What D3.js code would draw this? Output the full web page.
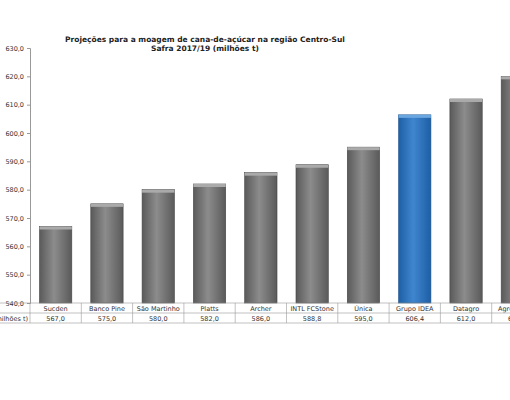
<!DOCTYPE html><html><head><script src="https://cdn.jsdelivr.net/npm/d3@7"></script>
<style>body{margin:0;overflow:hidden;background:#fff}text{font-family:"DejaVu Sans",sans-serif}</style></head><body><svg id="c" width="560" height="400"></svg><script>
const categories=["Sucden","Banco Pine","São Martinho","Platts","Archer","INTL FCStone","Única","Grupo IDEA","Datagro","Agroconsult"];
const values=[567.0,575.0,580.0,582.0,586.0,588.8,595.0,606.4,612.0,620.0];
const yTicks=[540,550,560,570,580,590,600,610,620,630];
(function(){
const svg=d3.select("#c");
const x0=30,plotTop=48,bot=303;
const x=d3.scaleBand().domain(categories).range([x0,x0+51.3*categories.length]).paddingInner(0.37).paddingOuter(0.185);
const y=d3.scaleLinear().domain([540,630]).range([bot,plotTop]);
const defs=svg.append("defs");
function grad(id,c1,c2){const g=defs.append("linearGradient").attr("id",id);
 g.append("stop").attr("offset","0%").attr("stop-color",c2);
 g.append("stop").attr("offset","45%").attr("stop-color",c1);
 g.append("stop").attr("offset","100%").attr("stop-color",c2);}
grad("gg","#8c8c8c","#5a5a5a");grad("gb","#3f86cf","#1e5fa5");
const fmt=v=>d3.format(".1f")(v).replace(".",",");
svg.append("g").attr("transform",`translate(${x0},0)`).call(d3.axisLeft(y).tickValues(yTicks).tickSize(3).tickFormat(fmt))
 .call(g=>{g.select(".domain").attr("stroke","#999");g.selectAll("line").attr("stroke","#999");g.selectAll("text").attr("font-size",6.5).attr("fill","#333");});
svg.selectAll(".bar").data(categories).join("g").each(function(c,i){
 const g=d3.select(this),bx=x(c),bw=x.bandwidth(),yy=y(values[i]);
 g.append("rect").attr("x",bx).attr("y",yy).attr("width",bw).attr("height",bot-yy).attr("fill",c==="Grupo IDEA"?"url(#gb)":"url(#gg)").attr("stroke",c==="Grupo IDEA"?"#1a4f8a":"#444").attr("stroke-width",0.6);
 g.append("rect").attr("x",bx).attr("y",yy).attr("width",bw).attr("height",3).attr("fill",c==="Grupo IDEA"?"#6aa6e0":"#aaa");
});
const step=x.step(),tx=x0;
const tb=svg.append("g").attr("font-size",6.5).attr("fill","#333");
[303,313,323].forEach(yy=>tb.append("line").attr("x1",0).attr("x2",560).attr("y1",yy).attr("y2",yy).attr("stroke","#999").attr("stroke-width",0.6));
categories.forEach((c,i)=>{const l=tx+i*step;
 tb.append("line").attr("x1",l).attr("x2",l).attr("y1",303).attr("y2",323).attr("stroke","#999").attr("stroke-width",0.6);
 tb.append("text").attr("x",l+step/2).attr("y",310.5).attr("text-anchor","middle").text(c);
 tb.append("text").attr("x",l+step/2).attr("y",320.5).attr("text-anchor","middle").text(fmt(values[i]));
});
tb.append("text").attr("x",28).attr("y",320.5).attr("text-anchor","end").text("Moagem (milhões t)");
const t=svg.append("g").attr("font-size",7.5).attr("font-weight","bold").attr("fill","#222").attr("text-anchor","middle");
t.append("text").attr("x",205).attr("y",42).text("Projeções para a moagem de cana-de-açúcar na região Centro-Sul");
t.append("text").attr("x",205).attr("y",51).text("Safra 2017/19  (milhões  t)");
})();
</script></body></html>
